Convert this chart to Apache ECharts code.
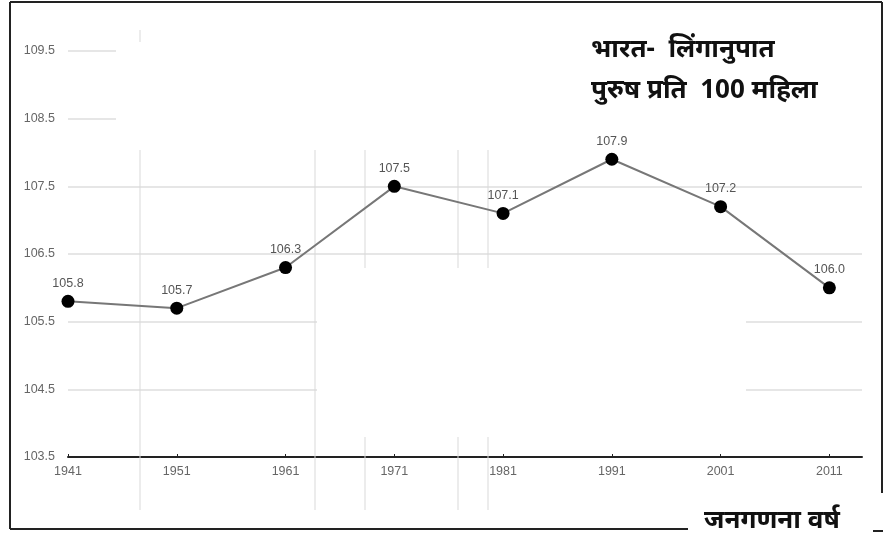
<!DOCTYPE html>
<html>
<head>
<meta charset="utf-8">
<script src="https://cdn.jsdelivr.net/npm/echarts@6/dist/echarts.min.js"></script>
<style>
html,body{margin:0;padding:0;background:#fff;}
#c{width:883px;height:535px;}
</style>
</head>
<body>
<div id="c"></div>
<script>
var years = [1941, 1951, 1961, 1971, 1981, 1991, 2001, 2011];
var sexRatio = [105.8, 105.7, 106.3, 107.5, 107.1, 107.9, 107.2, 106.0];
var yTicks = [103.5, 104.5, 105.5, 106.5, 107.5, 108.5, 109.5];
var titleLines = ['भारत-  लिंगानुपात', 'पुरुष प्रति  100 महिला'];
var xName = 'जनगणना वर्ष';

var chart = echarts.init(document.getElementById('c'), null, {renderer: 'canvas'});
var data = years.map(function (y, i) { return [y, sexRatio[i]]; });
var grey = '#d9d9d9';
function vline(x, y1, y2) {
  return {type: 'line', z: 1, silent: true, shape: {x1: x, y1: y1, x2: x, y2: y2}, style: {stroke: grey, lineWidth: 1}};
}
function bline(x1, y1, x2, y2) {
  return {type: 'line', z: 3, silent: true, shape: {x1: x1, y1: y1, x2: x2, y2: y2}, style: {stroke: '#222', lineWidth: 2}};
}
var option = {
  backgroundColor: '#fff',
  animation: false,
  textStyle: {fontFamily: 'Liberation Sans, Arial, sans-serif'},
  title: [
    {
      text: titleLines.join('\n'),
      left: 586, top: 24,
      textStyle: {fontSize: 26, fontWeight: 'bold', color: '#111', lineHeight: 41, fontFamily: 'Noto Sans, sans-serif'}
    },
    {
      text: xName,
      left: 689, top: 506,
      backgroundColor: '#fff',
      padding: [2, 15, 4, 15],
      textStyle: {fontSize: 26, fontWeight: 'bold', color: '#111', fontFamily: 'Noto Sans, sans-serif'}
    }
  ],
  grid: {left: 68, right: 21, top: 51, bottom: 78},
  xAxis: {
    type: 'value',
    min: years[0], max: 2014, interval: 10,
    axisLine: {show: true, onZero: false, lineStyle: {color: '#222', width: 2}},
    axisTick: {show: true, inside: true, length: 3, lineStyle: {color: '#222'}},
    axisLabel: {color: '#666', fontSize: 12.5, margin: 8, showMaxLabel: false, formatter: function (v) { return String(v); }},
    splitLine: {show: false}
  },
  yAxis: {
    type: 'value',
    min: yTicks[0], max: yTicks[yTicks.length - 1], interval: 1,
    axisLine: {show: false},
    axisTick: {show: false},
    axisLabel: {color: '#666', fontSize: 12.5, margin: 13, formatter: function (v) { return v.toFixed(1); }},
    splitLine: {lineStyle: {color: '#dedede', width: 1.5}}
  },
  graphic: {elements: [
    {type: 'rect', z: 1, silent: true, shape: {x: 116, y: 28, width: 750, height: 100}, style: {fill: '#fff'}},
    {type: 'rect', z: 1, silent: true, shape: {x: 317, y: 268, width: 429, height: 169}, style: {fill: '#fff'}},
    vline(140, 150, 510), vline(140, 30, 42),
    vline(315, 150, 510),
    vline(365, 150, 268), vline(365, 437, 510),
    vline(458, 150, 268), vline(458, 437, 510),
    vline(488, 150, 268), vline(488, 437, 510),
    bline(10, 2, 10, 529), bline(10, 2, 882, 2), bline(882, 2, 882, 493),
    bline(10, 529, 688, 529), bline(873, 531, 883, 531)
  ]},
  series: [{
    type: 'line',
    data: data,
    z: 5,
    symbol: 'circle',
    symbolSize: 13,
    itemStyle: {color: '#000'},
    lineStyle: {color: '#777', width: 2},
    label: {show: true, position: 'top', distance: 5, color: '#555', fontSize: 12.5,
      formatter: function (p) { return p.value[1].toFixed(1); }}
  }]
};
chart.setOption(option);
</script>
</body>
</html>
